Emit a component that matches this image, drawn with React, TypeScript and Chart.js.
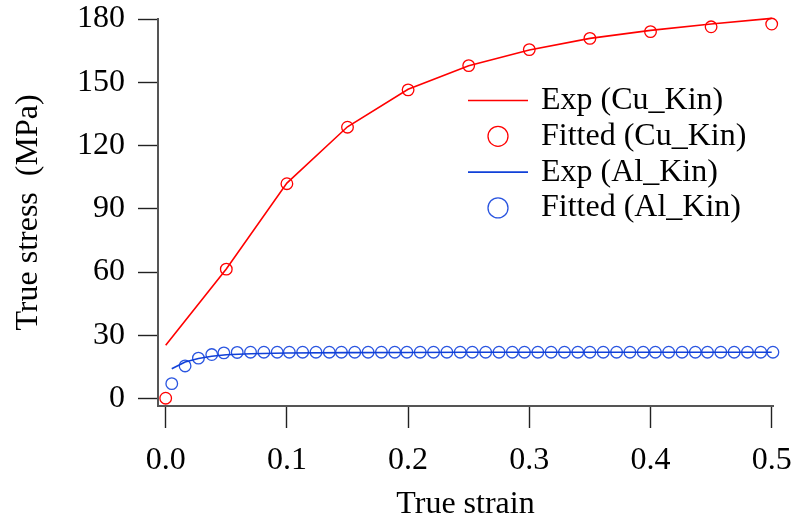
import React, { useEffect, useRef } from 'react';
import { Chart, registerables } from 'chart.js';

Chart.register(...registerables);

const FONT_FAMILY = '"Liberation Serif", "Times New Roman", serif';
const FONT_SIZE = 32;

const seriesLabels = ['Exp (Cu_Kin)', 'Fitted (Cu_Kin)', 'Exp (Al_Kin)', 'Fitted (Al_Kin)'];

const cuExpStrain = [0, 0.05, 0.1, 0.15, 0.2, 0.25, 0.3, 0.35, 0.4, 0.45, 0.5];
const cuExpStress = [25.3, 61.5, 102.2, 128.9, 146.7, 157.8, 165.3, 170.8, 174.6, 177.6, 180.3];

const cuFitStrain = [0, 0.05, 0.1, 0.15, 0.2, 0.25, 0.3, 0.35, 0.4, 0.45, 0.5];
const cuFitStress = [0.2, 61.4, 101.9, 128.7, 146.4, 157.9, 165.5, 170.8, 174.0, 176.3, 177.6];

const alExpStrain = [0.005, 0.016, 0.027, 0.038, 0.05, 0.07, 0.1, 0.15, 0.2, 0.25, 0.3, 0.35, 0.4, 0.45, 0.5];
const alExpStress = [14.2, 17.4, 19.0, 20.1, 20.8, 21.3, 21.6, 21.8, 21.9, 22.0, 22.0, 22.0, 22.0, 22.0, 22.0];

const alFitStrain = [
  0.005, 0.016, 0.027, 0.038, 0.048, 0.059, 0.070, 0.081, 0.092, 0.102,
  0.113, 0.124, 0.135, 0.145, 0.156, 0.167, 0.178, 0.189, 0.199, 0.210,
  0.221, 0.232, 0.243, 0.253, 0.264, 0.275, 0.286, 0.296, 0.307, 0.318,
  0.329, 0.340, 0.350, 0.361, 0.372, 0.383, 0.394, 0.404, 0.415, 0.426,
  0.437, 0.447, 0.458, 0.469, 0.480, 0.491, 0.501,
];
const alFitStress = [
  7.1, 15.5, 19.2, 20.9, 21.7, 21.9, 22.0, 22.0, 22.0, 22.0,
  22.0, 22.0, 22.0, 22.0, 22.0, 22.0, 22.0, 22.0, 22.0, 22.0,
  22.0, 22.0, 22.0, 22.0, 22.0, 22.0, 22.0, 22.0, 22.0, 22.0,
  22.0, 22.0, 22.0, 22.0, 22.0, 22.0, 22.0, 22.0, 22.0, 22.0,
  22.0, 22.0, 22.0, 22.0, 22.0, 22.0, 22.0,
];

const xTickValues = [0, 0.1, 0.2, 0.3, 0.4, 0.5];
const yTickValues = [0, 30, 60, 90, 120, 150, 180];

const RED = '#ff0000';
const BLUE_LINE = '#1040d8';
const BLUE_MARK = '#2a55e0';

const pts = (xs: number[], ys: number[]) => xs.map((x, i) => ({ x, y: ys[i] }));

const legendPlugin = {
  id: 'insideLegend',
  afterDraw(chart: any) {
    const ctx = chart.ctx as CanvasRenderingContext2D;
    const lineX0 = 468;
    const lineX1 = 528;
    const textX = 541;
    const y0 = 100.5;
    const step = 35.8;
    ctx.save();
    ctx.font = `${FONT_SIZE}px ${FONT_FAMILY}`;
    ctx.textBaseline = 'middle';
    ctx.textAlign = 'left';
    chart.data.datasets.forEach((ds: any, i: number) => {
      const y = y0 + i * step;
      if (ds.showLine) {
        ctx.strokeStyle = ds.borderColor;
        ctx.lineWidth = 1.6;
        ctx.beginPath();
        ctx.moveTo(lineX0, y);
        ctx.lineTo(lineX1, y);
        ctx.stroke();
      } else {
        ctx.strokeStyle = ds.pointBorderColor;
        ctx.lineWidth = 1.3;
        ctx.beginPath();
        ctx.arc((lineX0 + lineX1) / 2, y, 10, 0, Math.PI * 2);
        ctx.stroke();
      }
      ctx.fillStyle = '#000';
      ctx.fillText(ds.label, textX, y);
    });
    ctx.restore();
  },
};

export default function App() {
  const canvasRef = useRef<HTMLCanvasElement | null>(null);

  useEffect(() => {
    if (!canvasRef.current) return;
    const font = { family: FONT_FAMILY, size: FONT_SIZE, lineHeight: 1.2 };
    const chart = new Chart(canvasRef.current, {
      type: 'scatter',
      data: {
        datasets: [
          {
            label: seriesLabels[0],
            data: pts(cuExpStrain, cuExpStress),
            showLine: true,
            borderColor: RED,
            borderWidth: 1.6,
            pointRadius: 0,
            pointHoverRadius: 0,
            tension: 0,
            clip: false,
          },
          {
            label: seriesLabels[1],
            data: pts(cuFitStrain, cuFitStress),
            showLine: false,
            pointRadius: 5.8,
            pointBorderWidth: 1.3,
            pointBorderColor: RED,
            pointBackgroundColor: 'rgba(0,0,0,0)',
            borderColor: RED,
            clip: false,
          },
          {
            label: seriesLabels[2],
            data: pts(alExpStrain, alExpStress),
            showLine: true,
            borderColor: BLUE_LINE,
            borderWidth: 1.6,
            pointRadius: 0,
            pointHoverRadius: 0,
            tension: 0,
            clip: false,
          },
          {
            label: seriesLabels[3],
            data: pts(alFitStrain, alFitStress),
            showLine: false,
            pointRadius: 5.8,
            pointBorderWidth: 1.3,
            pointBorderColor: BLUE_MARK,
            pointBackgroundColor: 'rgba(0,0,0,0)',
            borderColor: BLUE_MARK,
            clip: false,
          },
        ],
      },
      options: {
        responsive: false,
        animation: false,
        events: [],
        layout: { padding: { top: 19, right: 22, left: 0, bottom: 0 } },
        plugins: {
          legend: { display: false },
          tooltip: { enabled: false },
        },
        scales: {
          x: {
            type: 'linear',
            min: -0.00635,
            max: 0.50107,
            afterFit: (scale: any) => {
              scale.height = 114;
              scale.paddingLeft = 0;
              scale.paddingRight = 0;
            },
            afterBuildTicks: (scale: any) => {
              scale.ticks = xTickValues.map((v) => ({ value: v }));
            },
            ticks: {
              font,
              color: '#000',
              padding: 13,
              maxRotation: 0,
              autoSkip: false,
              callback: (v: any) => Number(v).toFixed(1),
            },
            grid: {
              drawOnChartArea: false,
              drawTicks: true,
              tickLength: 22,
              tickColor: '#222',
              tickWidth: 1.4,
            },
            border: { display: true, color: '#555', width: 2 },
            title: {
              display: true,
              text: 'True strain',
              font,
              color: '#000',
              padding: { top: 0, bottom: -4 },
            },
          },
          y: {
            type: 'linear',
            min: -3.5,
            max: 180,
            afterFit: (scale: any) => {
              scale.width = 158;
              scale.paddingTop = 0;
              scale.paddingBottom = 0;
            },
            afterBuildTicks: (scale: any) => {
              scale.ticks = yTickValues.map((v) => ({ value: v }));
            },
            ticks: {
              font,
              color: '#000',
              padding: 13,
              autoSkip: false,
              callback: (v: any) => String(v),
            },
            grid: {
              drawOnChartArea: false,
              drawTicks: true,
              tickLength: 20,
              tickColor: '#222',
              tickWidth: 1.4,
            },
            border: { display: true, color: '#555', width: 2 },
            title: {
              display: true,
              text: 'True stress  (MPa)',
              font,
              color: '#000',
              padding: { top: 9, bottom: 0 },
            },
          },
        },
      },
      plugins: [legendPlugin],
    });
    return () => chart.destroy();
  }, []);

  return (
    <div style={{ position: 'absolute', left: 0, top: 0, width: 795, height: 520, background: '#fff' }}>
      <canvas ref={canvasRef} width={795} height={520} style={{ display: 'block' }} />
    </div>
  );
}
